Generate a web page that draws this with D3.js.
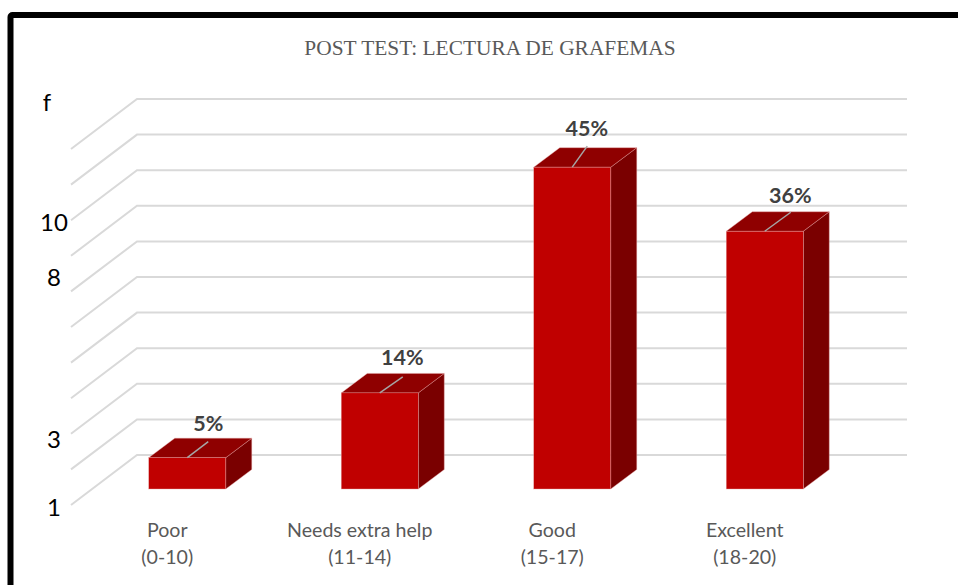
<!DOCTYPE html>
<html>
<head>
<meta charset="utf-8">
<script src="https://cdn.jsdelivr.net/npm/d3@7"></script>
<style>
  html, body { margin: 0; padding: 0; background: #fff; overflow: hidden; }
  svg { display: block; }
</style>
</head>
<body>
<div id="chart"></div>
<script>
// Chart data
var categories = ["Poor", "Needs extra help", "Good", "Excellent"];
var ranges = ["(0-10)", "(11-14)", "(15-17)", "(18-20)"];
var barHeights = [4.4, 13.5, 45.2, 36.2];
var barLabels = ["5%", "14%", "45%", "36%"];
var gridValues = [0, 5, 10, 15, 20, 25, 30, 35, 40, 45, 50];
var freqTicks = [1, 3, 8, 10];

var svgWidth = 958;
var svgHeight = 585;

var svg = d3.select("#chart")
    .append("svg")
    .attr("width", svgWidth)
    .attr("height", svgHeight);

// Frame, runs off the right and bottom of the page
svg.append("rect")
    .attr("x", 10.5)
    .attr("y", 15)
    .attr("width", 1000)
    .attr("height", 700)
    .attr("rx", 2)
    .attr("fill", "#fff")
    .attr("stroke", "#000")
    .attr("stroke-width", 6);

// Title
svg.append("text")
    .attr("x", 490)
    .attr("y", 55)
    .attr("text-anchor", "middle")
    .attr("font-family", "'Liberation Serif', serif")
    .attr("font-size", "21.4px")
    .attr("fill", "#595959")
    .text("POST TEST: LECTURA DE GRAFEMAS");

// Scales for the back wall of the 3D box
var yScale = d3.scaleLinear().domain([0, 50]).range([455, 99]);
var xScale = d3.scaleBand()
    .domain(categories)
    .range([137, 907])
    .paddingInner(0.6)
    .paddingOuter(0.3);

// Depth of the floor and of the bars, in px
var floorDx = -66, floorDy = 50;
var barShiftX = -46, barShiftY = 34;
var barDepthX = 26, barDepthY = -19.5;

// Gridlines: wall plus the side wall going forward
svg.append("g").selectAll("path")
    .data(gridValues)
    .enter()
    .append("path")
    .attr("d", function(d) {
        var y = yScale(d);
        return d3.line()([[137 + floorDx, y + floorDy], [137, y], [907, y]]);
    })
    .attr("fill", "none")
    .attr("stroke", "#d9d9d9")
    .attr("stroke-width", 2);

// Bars
var bars = svg.append("g").selectAll("g")
    .data(categories)
    .enter()
    .append("g");

function barBox(i) {
    var x0 = xScale(categories[i]) + barShiftX;
    var x1 = x0 + xScale.bandwidth();
    var yBase = yScale(0) + barShiftY;
    var yTop = yScale(barHeights[i]) + barShiftY;
    return { x0: x0, x1: x1, yBase: yBase, yTop: yTop };
}

var edge = "#e6a3a3";

bars.append("polygon")
    .attr("points", function(d, i) {
        var b = barBox(i);
        return [[b.x1, b.yTop], [b.x1 + barDepthX, b.yTop + barDepthY],
            [b.x1 + barDepthX, b.yBase + barDepthY], [b.x1, b.yBase]].join(" ");
    })
    .attr("fill", "#7a0000")
    .attr("stroke", edge)
    .attr("stroke-width", 0.4);

bars.append("polygon")
    .attr("points", function(d, i) {
        var b = barBox(i);
        return [[b.x0, b.yTop], [b.x0 + barDepthX, b.yTop + barDepthY],
            [b.x1 + barDepthX, b.yTop + barDepthY], [b.x1, b.yTop]].join(" ");
    })
    .attr("fill", "#8f0000")
    .attr("stroke", edge)
    .attr("stroke-width", 0.4);

bars.append("rect")
    .attr("x", function(d, i) { return barBox(i).x0; })
    .attr("y", function(d, i) { return barBox(i).yTop; })
    .attr("width", xScale.bandwidth())
    .attr("height", function(d, i) { return barBox(i).yBase - barBox(i).yTop; })
    .attr("fill", "#c00000")
    .attr("stroke", edge)
    .attr("stroke-width", 0.4);

// Data labels were moved by hand in the original, so each has its own nudge
var labelNudge = [[21, -34], [22.5, -35], [14.5, -39], [25.5, -36]];
var leaderEnd = [[21, -16], [23, -16], [15, -21], [26, -19]];

bars.append("line")
    .attr("x1", function(d, i) { var b = barBox(i); return (b.x0 + b.x1) / 2; })
    .attr("y1", function(d, i) { return barBox(i).yTop; })
    .attr("x2", function(d, i) { var b = barBox(i); return (b.x0 + b.x1) / 2 + leaderEnd[i][0]; })
    .attr("y2", function(d, i) { return barBox(i).yTop + leaderEnd[i][1]; })
    .attr("stroke", "#a6a6a6")
    .attr("stroke-width", 1.5);

bars.append("text")
    .attr("x", function(d, i) { var b = barBox(i); return (b.x0 + b.x1) / 2 + labelNudge[i][0]; })
    .attr("y", function(d, i) { return barBox(i).yTop + labelNudge[i][1]; })
    .attr("dy", "0.35em")
    .attr("text-anchor", "middle")
    .attr("font-family", "Lato, sans-serif")
    .attr("font-weight", "bold")
    .attr("font-size", "21.5px")
    .attr("fill", "#404040")
    .text(function(d, i) { return barLabels[i]; });

// Category labels sit on the front edge of the floor
var catLabels = svg.append("g")
    .attr("font-family", "Lato, sans-serif")
    .attr("font-size", "19.6px")
    .attr("fill", "#595959")
    .attr("text-anchor", "middle");

categories.forEach(function(c, i) {
    var cx = xScale(c) + xScale.bandwidth() / 2 + floorDx;
    catLabels.append("text").attr("x", cx).attr("y", 537).text(c);
    catLabels.append("text").attr("x", cx).attr("y", 564).text(ranges[i]);
});

// Frequency labels were typed over the chart and do not follow the gridlines
var freqScale = d3.scaleLinear().domain(freqTicks).range([507.5, 439.5, 277.5, 222.5]);
var freqAxis = d3.axisLeft(freqScale)
    .tickValues(freqTicks)
    .tickSize(0)
    .tickPadding(0)
    .tickFormat(d3.format("d"));

var freqGroup = svg.append("g")
    .attr("transform", "translate(54, 0)")
    .call(freqAxis);

freqGroup.select(".domain").remove();
freqGroup.selectAll("text")
    .attr("text-anchor", "middle")
    .attr("font-family", "Lato, sans-serif")
    .attr("font-size", "24px")
    .attr("fill", "#000");

svg.append("text")
    .attr("x", 47)
    .attr("y", 111)
    .attr("text-anchor", "middle")
    .attr("font-family", "Lato, sans-serif")
    .attr("font-size", "24px")
    .attr("fill", "#000")
    .text("f");
</script>
</body>
</html>
